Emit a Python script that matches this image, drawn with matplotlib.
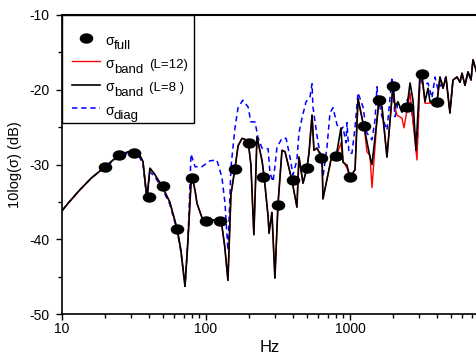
import numpy as np
import matplotlib
matplotlib.use("Agg")
import matplotlib.pyplot as plt
from matplotlib.markers import MarkerStyle
from matplotlib.transforms import Affine2D
from matplotlib.lines import Line2D
from matplotlib.legend_handler import HandlerLine2D
from matplotlib.ticker import FixedLocator, NullFormatter, FixedFormatter

plt.rcParams['font.family'] = ['Liberation Sans', 'DejaVu Sans']
plt.rcParams['axes.unicode_minus'] = False

# sigma_full: 1/3-octave band values
full_f = [20, 25, 31.5, 40, 50, 63, 80, 100, 125, 160, 200, 250, 315, 400, 500,
          630, 800, 1000, 1250, 1600, 2000, 2500, 3150, 4000]
full_db = [-30.3, -28.7, -28.5, -34.3, -32.9, -38.6, -31.8, -37.6, -37.6, -30.6,
           -27.1, -31.7, -35.4, -32.1, -30.5, -29.1, -28.9, -31.7, -24.8, -21.4,
           -19.5, -22.3, -17.9, -21.6]

# sigma_band (L=8)
band8_f = [10, 11, 13.3, 16, 19.9, 25, 30, 33.7, 36.5, 38.9, 40.8, 44, 49.5, 56, 63,
           67, 71.5, 75, 78.7, 80, 84, 86.6, 93.7, 100, 119, 129, 135, 142, 149, 159,
           167, 178, 196, 205, 215, 226, 245, 253, 270, 274, 287, 301, 316, 337, 354,
           395, 428, 442, 472, 502, 519, 545, 562, 590, 640, 649, 750, 800, 866, 894,
           953, 1000, 1084, 1137, 1231, 1250, 1312, 1377, 1422, 1540, 1589, 1668, 1806,
           1990, 2054, 2154, 2297, 2489, 2612, 2738, 2871, 3064, 3162, 3318, 3480, 3594,
           4018, 4217, 4424, 4642, 4942, 5188, 5531, 5807, 5995, 6290, 6596, 6925, 7148,
           7621]
band8_db = [-36.2, -35.2, -33.4, -31.8, -30.3, -28.7, -28.2, -28.3, -29.6, -34.5, -30.5,
            -31.3, -32.9, -35.0, -38.6, -41.5, -46.3, -40.0, -32.5, -31.6, -33.5, -35.2,
            -37.1, -37.5, -37.4, -38.2, -41.0, -45.5, -34.0, -30.5, -27.5, -26.5, -26.8,
            -30.0, -39.4, -26.3, -29.5, -31.5, -37.0, -39.2, -36.4, -45.2, -35.4, -28.1,
            -28.3, -32.1, -35.7, -29.0, -32.5, -30.5, -28.5, -23.4, -28.1, -27.8, -29.1,
            -34.6, -28.7, -29.0, -25.1, -29.7, -30.1, -31.7, -30.7, -21.2, -24.4, -24.8,
            -27.0, -29.0, -30.0, -24.0, -21.4, -22.3, -29.0, -19.3, -22.3, -21.6, -23.0,
            -22.3, -19.1, -21.4, -28.1, -17.8, -18.0, -21.6, -19.8, -21.6, -21.6, -18.3,
            -19.8, -18.3, -23.1, -18.7, -18.3, -19.0, -17.8, -19.4, -17.6, -18.7, -16.0,
            -17.8]

# sigma_band (L=12)
band12_f = [10, 11, 13.3, 16, 19.9, 25, 30, 33.7, 36.5, 38.9, 40.8, 44, 49.5, 56, 63,
            67, 71.5, 75, 78.7, 80, 84, 86.6, 93.7, 100, 119, 129, 135, 142, 149, 159,
            167, 178, 196, 205, 215, 226, 245, 253, 270, 274, 287, 301, 316, 337, 354,
            395, 428, 442, 472, 502, 519, 545, 562, 590, 640, 649, 750, 800, 866, 894,
            953, 1000, 1084, 1137, 1231, 1250, 1312, 1377, 1422, 1540, 1589, 1668, 1806,
            1990, 2054, 2119, 2297, 2371, 2612, 2918, 3064, 3162, 3318, 3594,
            4018, 4217, 4424, 4642, 4942, 5188, 5531, 5807, 5995, 6290, 6596, 6925, 7148,
            7621]
band12_db = [-36.2, -35.2, -33.4, -31.8, -30.3, -28.7, -28.2, -28.3, -29.6, -34.5, -30.5,
             -31.3, -32.9, -35.0, -38.6, -41.5, -46.3, -40.0, -32.5, -31.6, -33.5, -35.2,
             -37.1, -37.5, -37.4, -38.2, -41.0, -45.5, -34.0, -30.5, -27.5, -26.5, -26.8,
             -30.0, -39.4, -26.3, -29.5, -31.5, -37.0, -39.2, -36.4, -45.2, -35.4, -28.1,
             -28.3, -32.1, -35.7, -29.0, -32.5, -30.5, -28.5, -23.4, -28.1, -27.8, -29.1,
             -34.6, -28.7, -29.0, -27.1, -29.5, -30.5, -31.7, -30.7, -21.2, -24.4, -24.8,
             -28.3, -28.8, -33.1, -24.0, -21.4, -22.3, -29.0, -19.5, -22.3, -23.4, -23.8,
             -25.1, -20.4, -29.4, -18.5, -18.3, -21.8, -21.8, -21.6, -18.3,
             -19.8, -18.3, -23.1, -18.7, -18.3, -19.0, -17.8, -19.4, -17.6, -18.7, -16.0,
             -17.8]

# sigma_diag
diag_f = [10, 11, 13.3, 16, 19.9, 25, 30, 33.7, 36.5, 38.9, 40.8, 44, 49.5, 56, 63,
          67, 71.5, 75, 78.7, 84, 93.7, 106.6, 119, 129, 135.5, 142, 149, 159, 167, 180,
          196, 205, 219, 229, 245, 253, 270, 278, 292, 301, 311, 337, 360, 383, 402, 428,
          442, 464, 495, 527, 545, 553, 600, 629, 649, 692, 726, 762, 813, 866, 894, 937,
          953, 984, 1032, 1084, 1137, 1231, 1312, 1422, 1492, 1540, 1564, 1668, 1806,
          1957, 1990, 2054, 2154, 2297, 2409, 2570, 2697, 2918, 3064, 3213, 3481, 3709,
          3893, 4084, 4354, 4642, 4942, 5188, 5531, 5807, 5995, 6290, 6596, 6925, 7148,
          7621]
diag_db = [-36.2, -35.2, -33.4, -31.8, -30.4, -28.9, -28.4, -28.6, -30.0, -34.8, -31.0,
           -31.6, -33.2, -35.3, -38.8, -41.8, -46.3, -40.0, -28.6, -30.3, -30.3, -29.5,
           -29.4, -31.7, -35.2, -41.5, -30.4, -25.1, -22.4, -21.4, -22.3, -24.3, -24.3,
           -26.3, -27.8, -27.9, -27.9, -31.1, -32.3, -30.3, -27.7, -26.5, -26.5, -29.0,
           -31.4, -29.4, -25.8, -23.8, -21.6, -21.0, -19.2, -22.3, -27.1, -29.0, -31.7,
           -27.7, -23.1, -22.4, -24.7, -25.4, -25.0, -27.1, -24.4, -28.5, -28.5, -25.0,
           -20.4, -22.3, -25.8, -26.7, -24.0, -19.6, -21.1, -23.6, -25.4, -18.3, -20.0,
           -23.6, -21.8, -23.0, -21.8, -21.0, -23.1, -28.3, -18.3, -19.4, -19.1, -21.1,
           -18.3, -20.0, -19.1, -18.3, -23.1, -18.7, -18.3, -19.0, -17.8, -19.4, -17.6,
           -18.7, -16.0, -17.8]

xticks_major = [10, 100, 1000]
xtick_labels = ["10", "100", "1000"]
yticks_major = [-50, -40, -30, -20, -10]

# legend entries: subscript and note for each σ
legend_subs = ["full", "band", "band", "diag"]
legend_notes = [None, "(L=12)", "(L=8 )", None]

fig = plt.figure(figsize=(4.77, 3.56), dpi=100)
ax = fig.add_axes([62/477, 1 - 314/356, 1 - 62/477, (314 - 15)/356])

ellipse = MarkerStyle('o', transform=Affine2D().scale(1.35, 1.0))

l12, = ax.plot(band12_f, band12_db, color='#ff0000', lw=1.0, zorder=2)
l8, = ax.plot(band8_f, band8_db, color='black', lw=1.2, zorder=3)
ld, = ax.plot(diag_f, diag_db, color='#0000ff', lw=1.1, ls=(0, (3.5, 2.5)), zorder=1)
lf, = ax.plot(full_f, full_db, ls='none', marker=ellipse, ms=6.5, color='black', zorder=4)

ax.set_xscale('log')
ax.set_xlim(10, 7621)
ax.set_ylim(-50, -10)

ax.xaxis.set_major_locator(FixedLocator(xticks_major))
ax.xaxis.set_major_formatter(FixedFormatter(xtick_labels))
minors = [m * d for d in (10, 100, 1000) for m in range(2, 10) if m * d < 7621]
ax.xaxis.set_minor_locator(FixedLocator(minors))
ax.xaxis.set_minor_formatter(NullFormatter())
ax.set_yticks(yticks_major)
ax.set_yticks([-45, -35, -25, -15], minor=True)

ax.tick_params(which='major', direction='out', length=4, width=1, labelsize=10, colors='black')
ax.tick_params(axis='y', which='major', pad=5)
ax.tick_params(axis='x', which='major', pad=2)
ax.tick_params(which='minor', direction='out', length=3, width=1)
for s in ('left', 'bottom'):
    ax.spines[s].set_linewidth(1.2)
ax.spines['top'].set_linewidth(1.5)
ax.spines['right'].set_visible(False)

ax.set_xlabel('Hz', fontsize=12, labelpad=3)
ax.set_ylabel('10log(σ) (dB)', fontsize=10.5, labelpad=5)

leg = ax.legend([lf, l12, l8, ld], ["σ"] * 4,
                loc='upper left', bbox_to_anchor=(0, 1, 132/415, 0), mode='expand',
                fontsize=10, frameon=True, fancybox=False, edgecolor='black',
                framealpha=1, borderaxespad=0, title=' ', title_fontsize=5,
                handlelength=2.45, handleheight=1.6, handletextpad=0.42,
                labelspacing=0.39, borderpad=0.28,
                handler_map={Line2D: HandlerLine2D(xpad=0.43)})
leg.get_frame().set_linewidth(1.0)

for t, sub, note in zip(leg.get_texts(), legend_subs, legend_notes):
    a = ax.annotate(sub, xy=(0, 0), xycoords=t, xytext=(5.9, -3.3),
                    textcoords='offset points', ha='left', va='bottom',
                    fontsize=9.5, zorder=10, annotation_clip=False)
    if note is not None:
        ax.annotate(note, xy=(1, 0), xycoords=a, xytext=(4.0, 3.3),
                    textcoords='offset points', ha='left', va='bottom',
                    fontsize=9.5, zorder=10, annotation_clip=False)

fig.savefig('out.png', dpi=100)
